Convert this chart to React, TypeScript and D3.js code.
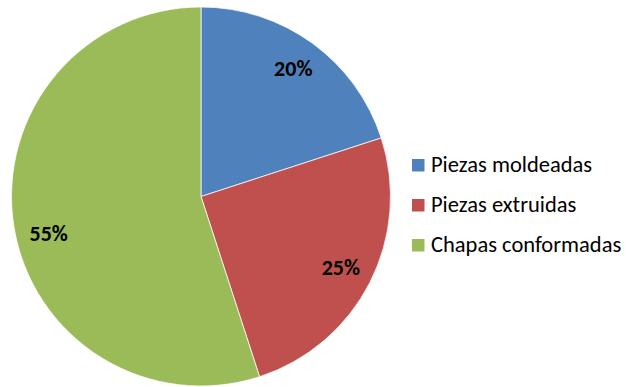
import React from "react";
import * as d3 from "d3";

const categories = ["Piezas moldeadas", "Piezas extruidas", "Chapas conformadas"];
const values = [20, 25, 55];
const labels = ["20%", "25%", "55%"];
const colors = ["#4F81BD", "#C0504D", "#9BBB59"];

export default function App() {
  const width = 626;
  const height = 387;
  const cx = 201;
  const cy = 196.5;
  const r = 189.5;
  const labelR = 157;
  // Excel "best fit" nudges for the data labels (degrees)
  const labelNudgeDeg = [0, 0, -5];
  const pie = d3.pie<number>().sort(null).value((d) => d)(values);
  const arc = d3.arc<d3.PieArcDatum<number>>().innerRadius(0).outerRadius(r);
  const font = "Carlito, Calibri, Lato, 'Liberation Sans', Arial, sans-serif";
  return (
    <svg width={width} height={height} style={{ position: "absolute", left: 0, top: 0 }}>
      <rect width={width} height={height} fill="#fff" />
      <g transform={`translate(${cx},${cy})`}>
        {pie.map((p, i) => (
          <path key={i} d={arc(p) || ""} fill={colors[i]} stroke="#fff" strokeWidth={0.75} />
        ))}
        {pie.map((p, i) => {
          const a = (p.startAngle + p.endAngle) / 2 + (labelNudgeDeg[i] * Math.PI) / 180;
          const x = labelR * Math.sin(a);
          const y = -labelR * Math.cos(a);
          return (
            <text key={i} x={x} y={y + 7} textAnchor="middle" fontFamily={font} fontWeight="bold" fontSize={22} fill="#000">
              {labels[i]}
            </text>
          );
        })}
      </g>
      <g>
        {categories.map((c, i) => (
          <g key={i} transform={`translate(412,${159 + i * 40})`}>
            <rect x={0} y={0} width={12.5} height={12.5} fill={colors[i]} />
            <text x={19} y={13} fontFamily={font} fontSize={22.5} fill="#000">
              {c}
            </text>
          </g>
        ))}
      </g>
    </svg>
  );
}
